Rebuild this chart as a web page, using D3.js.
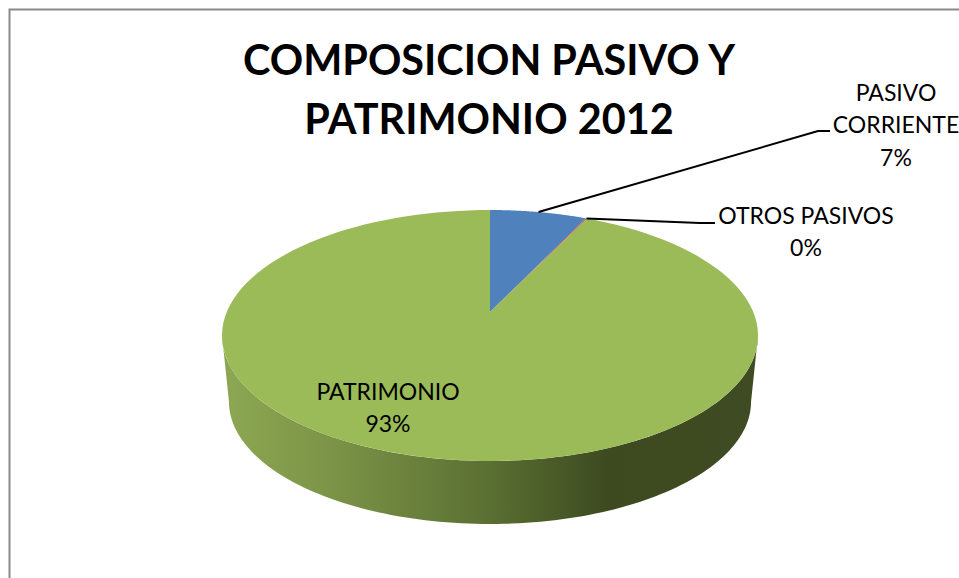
<!DOCTYPE html>
<html>
<head>
<meta charset="utf-8">
<script src="https://cdnjs.cloudflare.com/ajax/libs/d3/7.8.5/d3.min.js"></script>
<style>
	html, body { margin: 0; padding: 0; background: #fff; }
	svg { display: block; }
	text { font-family: Lato, "Open Sans", sans-serif; fill: #000; }
</style>
</head>
<body>
<div id="chart-area"></div>
<script>
// Data
const categories = ["PASIVO CORRIENTE", "OTROS PASIVOS", "PATRIMONIO"];
const values = [7.0, 0.1, 92.9];
const colors = ["#4F81BD", "#C0504D", "#9BBB59"];
const titleLines = ["COMPOSICION PASIVO Y", "PATRIMONIO 2012"];

const width = 959, height = 578;

let svg = d3.select("#chart-area")
	.append("svg")
	.attr("width", width)
	.attr("height", height);

// Chart frame (only top and left show in the picture)
svg.append("path")
	.attr("d", d3.line()([[9.5, height], [9.5, 9.5], [width, 9.5]]))
	.attr("fill", "none")
	.attr("stroke", "#8a8a8a")
	.attr("stroke-width", 2);

// Perspective of the disc: u, v on the unit circle -> screen
const cx = 490, apexY = 312, topY = 210, bottomY = 461, maxRx = 268;
const C = (topY + bottomY - 2 * apexY) / (bottomY - topY);
const A = topY * (1 + C) - apexY;
const D = maxRx * Math.sqrt(1 - C * C);

function project(angle) {
	const u = Math.sin(angle), v = Math.cos(angle);
	const w = 1 + C * v;
	return [cx + D * u / w, (A * v + apexY) / w];
}

// Rim at the bottom of the wall is the same curve, a bit narrower and lower
const depth = 63, shrink = 0.974;
function projectLow(angle) {
	const p = project(angle);
	return [cx + shrink * (p[0] - cx), bottomY + depth + shrink * (p[1] - bottomY)];
}

const pie = d3.pie().sort(null).startAngle(0).endAngle(2 * Math.PI);
const arcs = pie(values);
const line = d3.line();

function sample(a0, a1) {
	return d3.range(0, 121).map(i => a0 + (a1 - a0) * i / 120);
}

// Wall, between the widest points of the disc
let grad = svg.append("defs").append("linearGradient")
	.attr("id", "wall")
	.attr("gradientUnits", "userSpaceOnUse")
	.attr("x1", 222).attr("y1", 0)
	.attr("x2", 758).attr("y2", 0);
[[0, "#8DA853"], [0.2, "#7C9447"], [0.5, "#5A6F32"], [0.72, "#3D4A20"], [1, "#3F4B22"]]
	.forEach(s => grad.append("stop").attr("offset", s[0]).attr("stop-color", s[1]));

const widest = Math.acos(-C);
const wallAngles = sample(widest, 2 * Math.PI - widest);
svg.append("path")
	.attr("d", line(wallAngles.map(project).concat(wallAngles.slice().reverse().map(projectLow))) + "Z")
	.attr("fill", "url(#wall)");

// Top of the pie
svg.selectAll("path.slice")
	.data(arcs)
	.enter()
	.append("path")
	.attr("class", "slice")
	.attr("d", d => line([[cx, apexY]].concat(sample(d.startAngle, d.endAngle).map(project))) + "Z")
	.attr("fill", (d, i) => colors[i]);

// Leader lines, from the middle of each slice's rim
const midAngle = d => (d.startAngle + d.endAngle) / 2;
const leaderEnds = [[[818, 131], [830, 131]], [[700, 223], [715, 223]]];
leaderEnds.forEach((ends, i) => {
	svg.append("path")
		.attr("d", line([project(midAngle(arcs[i]))].concat(ends)))
		.attr("fill", "none")
		.attr("stroke", "#000")
		.attr("stroke-width", 2);
});

// Title
svg.selectAll("text.title")
	.data(titleLines)
	.enter()
	.append("text")
	.attr("class", "title")
	.attr("x", 489)
	.attr("y", (d, i) => 75 + i * 59)
	.attr("text-anchor", "middle")
	.attr("font-size", 41.4)
	.attr("font-weight", 700)
	.text(d => d);

// Data labels
const pct = v => Math.round(v) + "%";
const labels = [
	{ x: 896, y: [101, 133, 166], lines: ["PASIVO", "CORRIENTE", pct(values[0])] },
	{ x: 806, y: [224, 256], lines: ["OTROS PASIVOS", pct(values[1])] },
	{ x: 388, y: [400, 432], lines: ["PATRIMONIO", pct(values[2])] }
];
labels.forEach(l => {
	l.lines.forEach((t, i) => {
		svg.append("text")
			.attr("x", l.x)
			.attr("y", l.y[i])
			.attr("text-anchor", "middle")
			.attr("font-size", 23)
			.text(t);
	});
});
</script>
</body>
</html>
